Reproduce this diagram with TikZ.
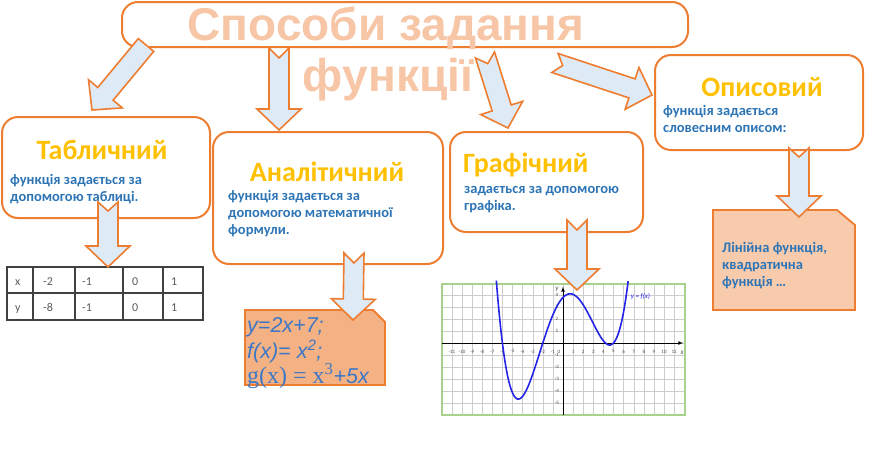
\documentclass[tikz,border=0pt]{standalone}
\usepackage{fontspec}
\setmainfont{Carlito}
\newfontfamily\titlefont{Liberation Sans}
\newfontfamily\serifmath{Liberation Serif}
\usetikzlibrary{calc}
\definecolor{boxorange}{HTML}{ED7D31}
\definecolor{arrowblue}{HTML}{DEEBF7}
\definecolor{titlepeach}{HTML}{F7C6A6}
\definecolor{headgold}{HTML}{FFC000}
\definecolor{textblue}{HTML}{2E75B6}
\definecolor{formblue}{HTML}{3D78C6}
\definecolor{formfill}{HTML}{F4B183}
\definecolor{descrfill}{HTML}{F8CBAD}
\definecolor{gridgreen}{HTML}{A9D18E}
\definecolor{curveblue}{HTML}{2424E8}

\tikzset{
  catbox/.style={draw=boxorange, line width=2pt, fill=white, rounded corners=16pt, inner sep=0pt},
  headtext/.style={text=headgold, font=\bfseries\fontsize{28}{32}\selectfont, anchor=base, inner sep=0pt},
  bodytext/.style={text=textblue, font=\bfseries\fontsize{14.5}{17}\selectfont, align=left, anchor=north west, inner sep=0pt},
  titletext/.style={text=titlepeach, font=\titlefont\bfseries\fontsize{46}{50}\selectfont, anchor=base, inner sep=0pt},
  blockarrow/.style={draw=boxorange, line width=1.6pt, fill=arrowblue, line join=miter},
  resultbox/.style={draw=boxorange, line width=1.8pt},
  tabline/.style={draw=black!75, line width=1.4pt},
  cell/.style={text=black!65, font=\fontsize{12}{14}\selectfont, anchor=base west, inner sep=0pt},
  gridline/.style={draw=black!20, line width=0.4pt},
  ticklabel/.style={text=black!70, font=\fontsize{5}{6}\selectfont, inner sep=0pt},
}

% block arrow: tail, tip, notch depth
\newcommand\blockarrow[3]{%
  \path let \p1=($(#2)-(#1)$) in
    \pgfextra{\pgfmathsetmacro\arrang{atan2(\y1,\x1)}\xdef\arrang{\arrang}%
              \pgfmathsetmacro\arrlen{veclen(\x1,\y1)}\xdef\arrlen{\arrlen}%
              \pgfmathsetmacro\arrneck{\arrlen-21}\xdef\arrneck{\arrneck}};
  \draw[blockarrow, shift={(#1)}, rotate=\arrang]
    (0pt,10pt) -- (\arrneck pt,10pt) -- (\arrneck pt,22pt) -- (\arrlen pt,0pt)
    -- (\arrneck pt,-22pt) -- (\arrneck pt,-10pt) -- (0pt,-10pt) -- (#3pt,0pt) -- cycle;}

\begin{document}
\begin{tikzpicture}[x=1pt, y=-1pt]
  \useasboundingbox (0,0) rectangle (873,453);

  % title
  \node[catbox, minimum width=566pt, minimum height=45pt] (title) at (405,24.5) {};
  \node[titletext] (title1) at (386,40) {Способи задання};
  \node[titletext] (title2) at (388,91) {функції};

  % the four ways
  \node[catbox, minimum width=208pt, minimum height=101pt] (tabl) at (106,167.5) {};
  \node[headtext] (tablhead) at (102,159) {Табличний};
  \node[bodytext] (tabltext) at (10,172) {\strut функція задається за\\допомогою таблиці.};

  \node[catbox, minimum width=230pt, minimum height=132pt] (anal) at (328,198) {};
  \node[headtext] (analhead) at (327,181) {Аналітичний};
  \node[bodytext] (analtext) at (228,188) {\strut функція задається за\\допомогою математичної\\формули.};

  \node[catbox, minimum width=193pt, minimum height=100pt] (graf) at (546.5,182) {};
  \node[headtext, anchor=base west] (grafhead) at (463,172) {Графічний};
  \node[bodytext] (graftext) at (464,181) {\strut задається за допомогою\\графіка.};

  \node[catbox, minimum width=208pt, minimum height=95pt] (opys) at (759,102.5) {};
  \node[headtext] (opyshead) at (762,96) {Описовий};
  \node[bodytext] (opystext) at (663,103) {\strut функція задається\\словесним описом:};

  % table
  \draw[tabline] (7,267) rectangle (203,320);
  \draw[tabline] (7,293) -- (203,293);
  \foreach \cx in {33,75,123,163}
    \draw[tabline] (\cx,267) -- (\cx,320);
  \foreach \cx/\xv/\yv in {15/x/y, 43/-2/-8, 82/-1/-1, 132/0/0, 171/1/1} {
    \node[cell] (xrow\cx) at (\cx,285) {\xv};
    \node[cell] (yrow\cx) at (\cx,311) {\yv};
  }

  % formulas
  \draw[resultbox, fill=formfill] (245,310) -- (373,310) -- (385,322) -- (385,385) -- (245,385) -- cycle;
  \node[text=formblue, font=\titlefont\itshape\fontsize{21.5}{22}\selectfont, align=left, anchor=north west, inner sep=0pt]
    (formtext) at (247,317) {\strut y=2x+7;\\f(x)= x\textsuperscript{2};\\{\upshape\serifmath\fontsize{24}{22}\selectfont g(x) = x\textsuperscript{3}}+5x};

  % description
  \draw[resultbox, fill=descrfill] (713,210) -- (837,210) -- (855,225) -- (855,310) -- (713,310) -- cycle;
  \node[bodytext] (descrtext) at (722,240) {\strut Лінійна функція,\\квадратична\\функція …};

  % graph
  \coordinate (origin) at (563,343);
  \begin{scope}[shift={(origin)}, x=10.1pt, y=12pt]
    \foreach \gx in {-11,...,12}
      \draw[gridline] (\gx,-6) -- (\gx,4.9);
    \foreach \gy in {-5,...,4}
      \draw[gridline] (-12,\gy) -- (12.1,\gy);
    \draw[draw=gridgreen, line width=1.5pt] (-12,-6) rectangle (12.1,4.9);
    \draw[line width=0.7pt, -latex] (-12,0) -- (11.9,0);
    \draw[line width=0.7pt, -latex] (0,-6) -- (0,4.7);
    \foreach \tx in {-11,...,-1,1,2,...,11}
      \node[ticklabel] (tx\tx) at (\tx,-0.7) {\tx};
    \node[ticklabel] (tx0) at (-0.4,-0.7) {0};
    \foreach \ty in {-5,...,-1,1,2,3,4}
      \node[ticklabel] (ty\ty) at (-0.6,\ty) {\ty};
    \node[ticklabel, font=\itshape\fontsize{7}{8}\selectfont] (xname) at (11.8,-0.8) {x};
    \node[ticklabel, font=\itshape\fontsize{7}{8}\selectfont] (yname) at (-0.6,4.5) {y};
    \draw[curveblue, line width=1.6pt] plot[domain=-6.6:6.45, samples=120, smooth]
      (\x, {0.01506*(\x+6)*(\x+2)*(\x-4.2)*(\x-5)});
    \node[text=curveblue, font=\itshape\fontsize{7}{8}\selectfont, anchor=west, inner sep=0pt]
      (fname) at (6.7,3.9) {y = f(x)};
  \end{scope}

  % arrows
  \coordinate (a1s) at (146,45);  \coordinate (a1e) at (92,110);
  \coordinate (a2s) at (279,48);  \coordinate (a2e) at (279,130);
  \coordinate (a3s) at (485,55);  \coordinate (a3e) at (508,128);
  \coordinate (a4s) at (555,63);  \coordinate (a4e) at (652,95);
  \coordinate (a5s) at (108,202); \coordinate (a5e) at (108,267);
  \coordinate (a6s) at (354,253); \coordinate (a6e) at (353,320);
  \coordinate (a7s) at (577,220); \coordinate (a7e) at (577,290);
  \coordinate (a8s) at (799,148); \coordinate (a8e) at (799,217);
  \blockarrow{a1s}{a1e}{0}
  \blockarrow{a2s}{a2e}{10}
  \blockarrow{a3s}{a3e}{9}
  \blockarrow{a4s}{a4e}{8}
  \blockarrow{a5s}{a5e}{9}
  \blockarrow{a6s}{a6e}{10}
  \blockarrow{a7s}{a7e}{10}
  \blockarrow{a8s}{a8e}{9}
\end{tikzpicture}
\end{document}
